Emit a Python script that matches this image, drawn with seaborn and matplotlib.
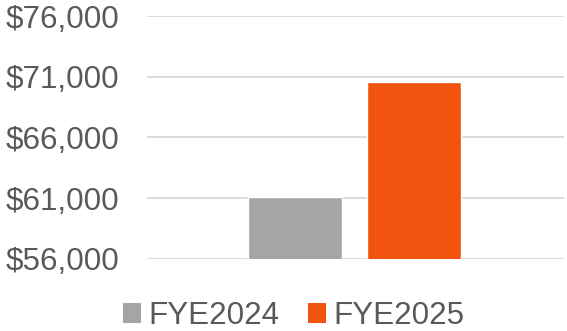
import matplotlib
matplotlib.use("Agg")
import matplotlib.pyplot as plt
from matplotlib.patches import Patch
import pandas as pd
import seaborn as sns

# Annual values by fiscal year end
periods = ["FYE2024", "FYE2025"]
values = [61050, 70560]
colors = ["#A5A5A5", "#F0540E"]
y_ticks = [56000, 61000, 66000, 71000, 76000]

df = pd.DataFrame({"period": periods, "value": values})

sns.set_theme(style="white")
plt.rcParams["font.family"] = ["Liberation Sans", "DejaVu Sans"]

text_color = "#595959"
fs = 22.6

fig = plt.figure(figsize=(5.67, 3.31), dpi=100)
ax = fig.add_axes([147 / 567, 1 - 258.7 / 331, (564 - 147) / 567, (258.7 - 16) / 331])

sns.barplot(data=df, x="period", y="value", hue="period", palette=colors,
            width=0.79, legend=False, saturation=1, ax=ax, zorder=3)

ax.set_xlim(-1.244, 2.26)
ax.set_ylim(56000, 76000)
ax.set_yticks(y_ticks)
ax.set_yticklabels([f"${v:,}" for v in y_ticks])
ax.set_xticks([])
ax.set_xlabel("")
ax.set_ylabel("")
ax.tick_params(axis="y", length=0, pad=20, labelsize=fs, labelcolor=text_color)
ax.yaxis.grid(True, color="#D9D9D9", linewidth=1.3, zorder=0)
for s in ax.spines.values():
    s.set_visible(False)

handles = [Patch(facecolor=c, edgecolor="none", label=p) for p, c in zip(periods, colors)]
fig.legend(handles=handles, loc="center", bbox_to_anchor=(294 / 567, 1 - 316 / 331),
           ncol=2, frameon=False, fontsize=fs, labelcolor=text_color,
           handlelength=0.57, handleheight=0.57, handletextpad=0.25,
           columnspacing=0.9, borderpad=0, borderaxespad=0)

fig.savefig("out.png", dpi=100)
